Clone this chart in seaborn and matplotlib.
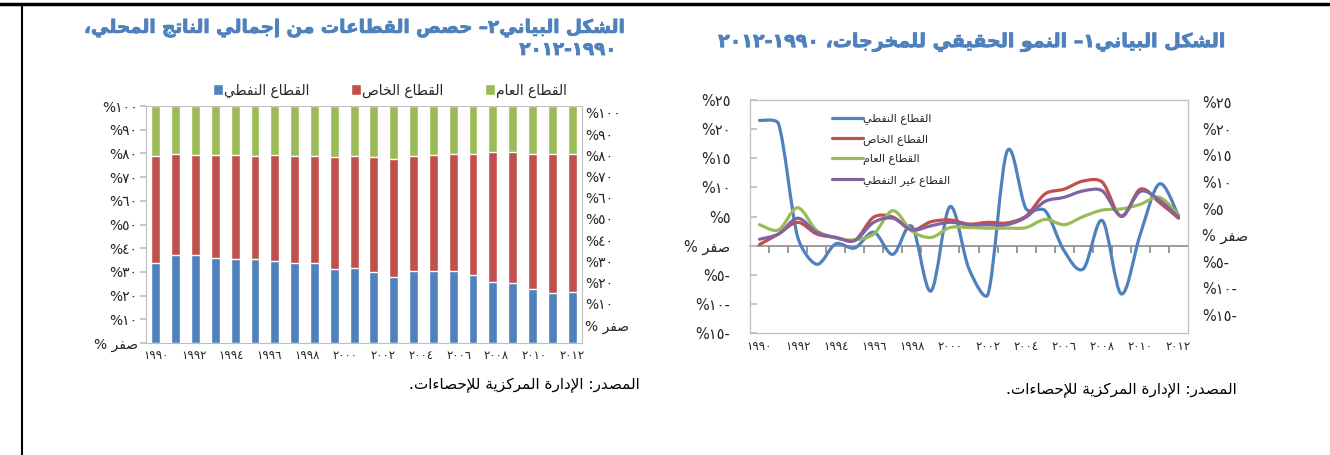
import re
import numpy as np
import matplotlib
matplotlib.use('Agg')
import matplotlib.pyplot as plt
import matplotlib.patheffects as pe
import seaborn as sns
from matplotlib.path import Path
from matplotlib.patches import PathPatch
from matplotlib.lines import Line2D
import matplotlib.transforms as mtransforms

# ---------------- data ----------------
# chart 2 (left): sector shares of GDP, stacked to 100%
bar_years = [str(y) for y in range(1990, 2012)]
oil_share = [33.6, 37.2, 37.2, 36.0, 35.5, 35.5, 34.8, 33.6, 33.6, 31.2, 31.8,
             29.8, 27.7, 30.5, 30.5, 30.5, 28.7, 25.8, 25.2, 22.7, 21.0, 21.6]
oil_private_top = [78.7, 79.9, 79.4, 79.4, 79.4, 78.7, 79.4, 78.7, 78.7, 78.3, 78.7,
                   78.3, 77.6, 78.7, 79.4, 79.9, 79.9, 80.6, 80.6, 79.9, 79.9, 79.9]
private_share = [t - o for t, o in zip(oil_private_top, oil_share)]
public_share = [100 - t for t in oil_private_top]
bar_xlabels = ['١٩٩٠', '١٩٩٢', '١٩٩٤', '١٩٩٦', '١٩٩٨', '٢٠٠٠',
               '٢٠٠٢', '٢٠٠٤', '٢٠٠٦', '٢٠٠٨', '٢٠١٠', '٢٠١٢']

# chart 1 (right): real output growth, %
line_years = list(range(1990, 2013))
oil_growth = [21.5, 20.9, 1.5, -3.2, 0.3, -0.4, 2.3, -1.5, 3.3, -7.8, 6.7, -4.0,
              -8.3, 16.2, 6.3, 6.0, -0.9, -4.0, 4.3, -8.3, 2.0, 10.6, 5.1]
private_growth = [0.2, 2.0, 4.0, 2.0, 1.4, 0.9, 4.9, 4.9, 2.7, 4.1, 4.4, 3.7,
                  4.0, 3.9, 5.1, 8.9, 9.7, 11.1, 10.9, 5.0, 9.7, 7.4, 4.7]
public_growth = [3.6, 2.7, 6.5, 2.6, 1.3, 1.0, 2.0, 6.0, 2.5, 1.4, 3.1, 3.1,
                 3.0, 3.0, 3.1, 4.5, 3.6, 5.0, 6.1, 6.3, 7.1, 8.3, 5.3]
nonoil_growth = [1.1, 2.0, 4.7, 2.3, 1.4, 0.9, 4.0, 4.7, 2.7, 3.4, 4.0, 3.6,
                 3.6, 3.6, 4.9, 7.6, 8.3, 9.4, 9.4, 5.1, 9.3, 7.8, 4.9]
line_xlabels = ['١٩٩٠', '١٩٩٢', '١٩٩٤', '١٩٩٦', '١٩٩٨', '٢٠٠٠',
                '٢٠٠٢', '٢٠٠٤', '٢٠٠٦', '٢٠٠٨', '٢٠١٠', '٢٠١٢']

lbl_oil = 'القطاع النفطي'
lbl_private = 'القطاع الخاص'
lbl_public = 'القطاع العام'
lbl_nonoil = 'القطاع غير النفطي'

BLUE, RED, GREEN, PURPLE = '#4F81BD', '#C0504D', '#9BBB59', '#8064A2'
TITLE_C = '#4F81BD'
SPINE_C = '#BFBFBF'

# ---------------- simple Arabic shaping + RTL ordering ----------------
_table = [('ء', 0xFE80, 1), ('آ', 0xFE81, 2), ('أ', 0xFE83, 2), ('ؤ', 0xFE85, 2),
          ('إ', 0xFE87, 2), ('ئ', 0xFE89, 4), ('ا', 0xFE8D, 2), ('ب', 0xFE8F, 4),
          ('ة', 0xFE93, 2), ('ت', 0xFE95, 4), ('ث', 0xFE99, 4), ('ج', 0xFE9D, 4),
          ('ح', 0xFEA1, 4), ('خ', 0xFEA5, 4), ('د', 0xFEA9, 2), ('ذ', 0xFEAB, 2),
          ('ر', 0xFEAD, 2), ('ز', 0xFEAF, 2), ('س', 0xFEB1, 4), ('ش', 0xFEB5, 4),
          ('ص', 0xFEB9, 4), ('ض', 0xFEBD, 4), ('ط', 0xFEC1, 4), ('ظ', 0xFEC5, 4),
          ('ع', 0xFEC9, 4), ('غ', 0xFECD, 4), ('ف', 0xFED1, 4), ('ق', 0xFED5, 4),
          ('ك', 0xFED9, 4), ('ل', 0xFEDD, 4), ('م', 0xFEE1, 4), ('ن', 0xFEE5, 4),
          ('ه', 0xFEE9, 4), ('و', 0xFEED, 2), ('ى', 0xFEEF, 2), ('ي', 0xFEF1, 4)]
FORMS = {c: (b, n) for c, b, n in _table}
LAM_ALEF = {'آ': 0xFEF5, 'أ': 0xFEF7, 'إ': 0xFEF9, 'ا': 0xFEFB}


def shape(s):
    toks = []
    i = 0
    while i < len(s):
        if s[i] == 'ل' and i + 1 < len(s) and s[i + 1] in LAM_ALEF:
            toks.append(('LA', s[i + 1]))
            i += 2
        else:
            toks.append(('C', s[i]))
            i += 1

    def joins_next(t):
        return t[0] == 'C' and t[1] in FORMS and FORMS[t[1]][1] == 4

    def joinable(t):
        return t[0] == 'LA' or (t[1] in FORMS and FORMS[t[1]][1] > 1)

    out = []
    for j, t in enumerate(toks):
        prev = toks[j - 1] if j > 0 else None
        nxt = toks[j + 1] if j + 1 < len(toks) else None
        p = prev is not None and joins_next(prev) and joinable(t)
        if t[0] == 'LA':
            out.append(chr(LAM_ALEF[t[1]] + (1 if p else 0)))
            continue
        c = t[1]
        if c not in FORMS:
            out.append(c)
            continue
        base, nf = FORMS[c]
        if nf == 1:
            out.append(chr(base))
        elif nf == 2:
            out.append(chr(base + (1 if p else 0)))
        else:
            nx = nxt is not None and joinable(nxt)
            out.append(chr(base + {(False, False): 0, (True, False): 1,
                                   (False, True): 2, (True, True): 3}[(p, nx)]))
    return ''.join(out)


def ar(s):
    runs = re.findall(r'[0-9\u0660-\u0669]+|[^0-9\u0660-\u0669]', shape(s))
    return ''.join(reversed(runs))


def ar_num(v):
    if v == 0:
        return ar('صفر %')
    d = str(abs(v)).translate(str.maketrans('0123456789', '٠١٢٣٤٥٦٧٨٩'))
    return ar(('-' if v < 0 else '') + d + '%')


def smooth_path(ax, xs, ys):
    # Catmull-Rom style smoothing in screen space, handles capped to a third
    # of the segment so flat runs do not overshoot
    pts = ax.transData.transform(np.column_stack([xs, ys]).astype(float))
    n = len(pts)

    def handle(i, seg):
        d = (pts[min(i + 1, n - 1)] - pts[max(i - 1, 0)]) / 6
        m = np.hypot(*d)
        cap = seg / 3
        return d * (cap / m) if m > cap else d

    verts, codes = [pts[0]], [Path.MOVETO]
    for i in range(n - 1):
        seg = np.hypot(*(pts[i + 1] - pts[i]))
        verts += [pts[i] + handle(i, seg), pts[i + 1] - handle(i + 1, seg), pts[i + 1]]
        codes += [Path.CURVE4] * 3
    data = ax.transData.inverted().transform(np.array(verts))
    return Path(data, codes)


# ---------------- figure ----------------
sns.set_theme(style='white')
plt.rcParams['font.family'] = ['DejaVu Sans']

fig = plt.figure(figsize=(13.3, 4.55), dpi=100)
W, H = 1330, 455


def box(x0, y0, x1, y1):
    return [x0 / W, (H - y1) / H, (x1 - x0) / W, (y1 - y0) / H]


# ---------- left chart: stacked shares ----------
axL = fig.add_axes(box(146, 106, 582, 343))
tot_all = [o + p + g for o, p, g in zip(oil_share, private_share, public_share)]
tot_op = [o + p for o, p in zip(oil_share, private_share)]
sns.barplot(x=bar_years, y=tot_all, color=GREEN, width=0.45, ax=axL,
            saturation=1, label=ar(lbl_public))
sns.barplot(x=bar_years, y=tot_op, color=RED, width=0.45, ax=axL,
            saturation=1, label=ar(lbl_private))
sns.barplot(x=bar_years, y=oil_share, color=BLUE, width=0.45, ax=axL,
            saturation=1, label=ar(lbl_oil))
axL.set_xlim(-0.5, len(bar_years) - 0.5)
axL.set_ylim(0, 100)
axL.set_xlabel('')
axL.set_ylabel('')
yt = list(range(0, 101, 10))
axL.set_yticks(yt)
axL.set_yticklabels([ar_num(v) for v in yt], fontsize=10)
off = mtransforms.ScaledTranslation(0, -11 / 100, fig.dpi_scale_trans)
for t in axL.get_yticklabels():
    t.set_transform(t.get_transform() + off)
axL.tick_params(axis='y', left=True, length=4, color=SPINE_C, pad=2)
axL.set_xticks(np.linspace(0, len(bar_years) - 1, len(bar_xlabels)))
axL.set_xticklabels(bar_xlabels, fontsize=8.5)
axL.tick_params(axis='x', length=0, pad=4)
for s in axL.spines.values():
    s.set_color(SPINE_C)
    s.set_linewidth(0.8)

h, l = axL.get_legend_handles_labels()
order = [l.index(ar(lbl_oil)), l.index(ar(lbl_private)), l.index(ar(lbl_public))]
axL.legend([h[i] for i in order], [l[i] for i in order], loc='lower center',
           bbox_to_anchor=(0.56, 1.0), ncol=3, frameon=False, fontsize=10,
           handlelength=0.7, handleheight=0.9, handletextpad=0.1,
           columnspacing=3.0, borderaxespad=0.2)

axL2 = axL.twinx()
axL2.set_ylim(-8.5, 103.3)
axL2.set_yticks(yt)
axL2.set_yticklabels([ar_num(v) for v in yt], fontsize=10)
axL2.tick_params(axis='y', length=0, pad=2)
for s in axL2.spines.values():
    s.set_visible(False)

# ---------- right chart: growth lines ----------
axR = fig.add_axes(box(750, 100, 1188, 333))
xs = np.arange(len(line_years))
ymin, ymax = -15, 25
axR.set_xlim(-0.5, len(line_years) - 0.5)
axR.set_ylim(ymin, ymax)
series = [(oil_growth, BLUE, lbl_oil), (private_growth, RED, lbl_private),
          (public_growth, GREEN, lbl_public), (nonoil_growth, PURPLE, lbl_nonoil)]
handles = []
for vals, col, lab in series:
    axR.add_patch(PathPatch(smooth_path(axR, xs, vals), facecolor='none', edgecolor=col,
                            lw=2.3, capstyle='round', joinstyle='round', zorder=3))
    handles.append(Line2D([], [], color=col, lw=2.3, label=ar(lab)))
gt = list(range(-15, 26, 5))
axR.set_yticks(gt)
axR.set_yticklabels([ar_num(v) for v in gt], fontsize=10.5)
axR.tick_params(axis='y', direction='in', left=True, right=True, length=5,
                color=SPINE_C, pad=14)
axR.set_xticks(xs[::2])
axR.set_xticklabels(line_xlabels, fontsize=8.5)
axR.tick_params(axis='x', length=0, pad=5)
for s in axR.spines.values():
    s.set_color(SPINE_C)
    s.set_linewidth(0.9)

zero_frac = (0 - ymin) / (ymax - ymin)
sec = axR.secondary_xaxis(zero_frac)
sec.set_xticks(xs[:-1] + 0.5)
sec.tick_params(axis='x', direction='out', length=5, color='#8C8C8C',
                labelbottom=False, labeltop=False)
sec.spines['bottom'].set_color('#8C8C8C')
sec.spines['bottom'].set_linewidth(1.2)

axR.legend(handles=handles, loc='upper left', bbox_to_anchor=(0.165, 0.985),
           frameon=False, fontsize=8, handlelength=2.8, handletextpad=0.0,
           labelspacing=0.85)

axR2 = axR.twinx()
axR2.set_ylim(-18.4, 25.4)
axR2.set_yticks(gt)
axR2.set_yticklabels([ar_num(v) for v in gt], fontsize=10.5)
axR2.tick_params(axis='y', length=0, pad=10)
for s in axR2.spines.values():
    s.set_visible(False)

# ---------- titles and sources ----------
heavy = [pe.withStroke(linewidth=0.6, foreground=TITLE_C)]
fig.text(627 / W, 1 - 28 / H, ar('الشكل البياني٢– حصص القطاعات من إجمالي الناتج المحلي،'),
         ha='right', va='center', fontsize=13.2, fontweight='bold', color=TITLE_C,
         path_effects=heavy)
fig.text(617 / W, 1 - 50 / H, ar('١٩٩٠-٢٠١٢'),
         ha='right', va='center', fontsize=13.2, fontweight='bold', color=TITLE_C,
         path_effects=heavy)
fig.text(1227 / W, 1 - 42 / H, ar('الشكل البياني١– النمو الحقيقي للمخرجات، ١٩٩٠-٢٠١٢'),
         ha='right', va='center', fontsize=13.7, fontweight='bold', color=TITLE_C,
         path_effects=heavy)
fig.text(640 / W, 1 - 385 / H, ar('المصدر: الإدارة المركزية للإحصاءات.'),
         ha='right', va='center', fontsize=11, color='black')
fig.text(1237 / W, 1 - 390 / H, ar('المصدر: الإدارة المركزية للإحصاءات.'),
         ha='right', va='center', fontsize=11, color='black')

# page frame
fig.add_artist(Line2D([0, 1], [1 - 4 / H, 1 - 4 / H], color='black', lw=2.5))
fig.add_artist(Line2D([22 / W, 22 / W], [0, 1 - 4 / H], color='black', lw=1.5))

fig.savefig('out.png', dpi=100)
